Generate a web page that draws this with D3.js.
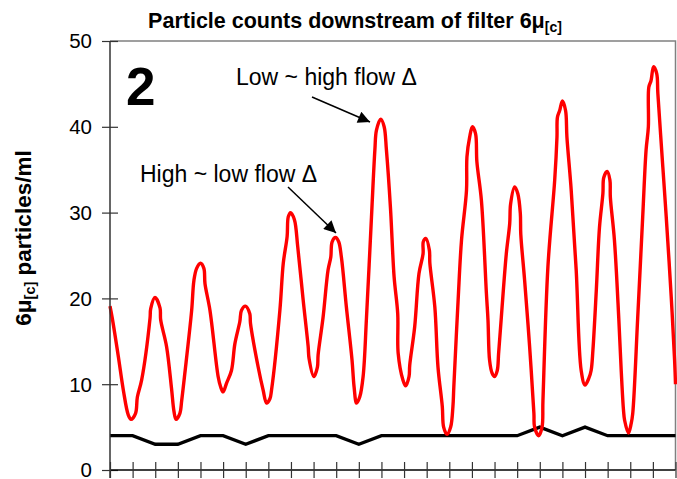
<!DOCTYPE html>
<html><head><meta charset="utf-8">
<script src="https://cdn.jsdelivr.net/npm/d3@7"></script>
<style>body{margin:0;background:#fff}svg{display:block}text{font-family:"Liberation Sans",Arial,sans-serif}</style>
</head><body><svg id="c" width="677" height="479"></svg>
<script>
const yTicks = [0,10,20,30,40,50];
const xTicks = d3.range(0,26);
const blackValues = [4,4,3,3,4,4,3,4,4,4,4,3,4,4,4,4,4,4,4,5,4,5,4,4,4,4];
const redX = [0,0.1,0.37,0.59,0.81,0.93,1.13,1.21,1.4,1.77,1.8,1.99,2.21,2.24,2.5,2.72,2.83,2.92,3.09,3.17,3.31,3.61,3.71,3.83,4.0,4.15,4.2,4.42,4.78,4.89,5.0,5.15,5.37,5.52,5.74,5.81,5.99,6.18,6.21,6.55,6.77,6.92,7.07,7.14,7.51,7.66,7.83,7.88,7.98,8.15,8.3,8.54,8.76,8.8,9.01,9.17,9.2,9.42,9.64,9.76,9.82,9.97,10.11,10.23,10.45,10.7,10.79,10.9,11.04,11.19,11.34,11.56,11.71,11.78,11.97,12.12,12.22,12.4,12.56,12.72,12.74,12.95,13.07,13.22,13.25,13.47,13.66,13.84,13.85,13.96,14.12,14.14,14.36,14.5,14.69,14.75,14.9,15.06,15.16,15.2,15.39,15.54,15.76,15.78,15.9,16.02,16.16,16.22,16.42,16.64,16.71,16.78,16.89,17.0,17.12,17.18,17.3,17.52,17.67,17.71,17.89,18.03,18.14,18.16,18.33,18.55,18.74,18.77,18.95,19.1,19.14,19.36,19.66,19.76,19.78,19.88,20.0,20.14,20.2,20.39,20.61,20.83,21.0,21.17,21.27,21.35,21.5,21.64,21.79,21.83,21.98,22.1,22.12,22.3,22.49,22.6,22.7,22.75,22.92,23.04,23.11,23.33,23.55,23.7,23.8,23.82,23.92,24.03,24.17,24.22,24.44,24.59,24.81,24.96,25.0];
const redY = [19.1,17.7,13.2,9.3,6.4,5.9,6.6,8.5,10.5,17.7,18.8,20.1,18.9,17.5,14.4,9.5,6.8,5.9,6.6,8.1,11.3,18.6,22.1,23.5,24.1,23.5,21.7,18.6,10.9,9.7,9.1,10.1,11.6,14.7,17.3,18.6,19.1,18.2,17.1,12.0,9.3,7.8,8.3,9.3,18.6,24.1,27.2,29.5,30.0,29.2,26.0,19.8,14.4,13.0,10.9,12.0,13.4,17.8,23.3,24.8,26.6,27.1,26.6,24.8,19.0,12.8,9.7,7.8,8.5,10.9,17.8,29.5,37.3,39.6,40.9,40.0,37.3,30.5,22.5,18.2,13.6,10.5,9.8,10.9,12.2,16.7,22.9,25.2,26.6,27.0,25.6,24.1,19.0,12.0,7.4,5.0,4.15,5.0,7.4,9.7,19.8,26.8,32.6,36.5,38.8,40.0,39.2,35.9,31.4,20.6,17.5,12.8,11.3,10.9,11.6,13.6,17.8,25.2,28.7,31.0,33.0,32.2,29.9,27.5,22.1,14.4,6.6,5.0,4.0,5.0,8.1,23.7,33.8,38.8,41.1,41.9,43.0,41.9,38.8,32.6,23.3,11.6,9.9,10.7,11.6,14.0,21.0,28.3,32.2,34.1,34.8,33.8,31.8,26.8,17.8,11.6,7.0,5.8,4.3,5.4,6.6,17.8,29.5,37.3,40.0,44.6,45.4,47.0,46.2,43.9,35.3,29.5,20.2,12.8,10.0];
const titleMain = "Particle counts downstream of filter 6\u03bc";
const titleSub = "[c]";
const yLabelMain = "6\u03bc", yLabelSub = "[c]", yLabelRest = " particles/ml";
const panelLabel = "2";
const annotations = [
  {text:"Low ~ high flow \u0394", tx:236, ty:85, x1:312, y1:97, x2:370, y2:122},
  {text:"High ~ low flow \u0394", tx:140, ty:182, x1:288, y1:187, x2:336, y2:233}
];

const svg = d3.select("#c");
const L=110, R=675.5, T=41, B=470;
const x = d3.scaleLinear().domain([0,25]).range([L,R]);
const y = d3.scaleLinear().domain([0,50]).range([B,T]);

svg.append("path").attr("d",`M${L},${T}H${R}V${B}`).attr("fill","none").attr("stroke","#808080").attr("stroke-width",1.5);

svg.append("path").datum(blackValues)
  .attr("d", d3.line().x((d,i)=>x(i)).y(d=>y(d)))
  .attr("fill","none").attr("stroke","#000").attr("stroke-width",3.3).attr("stroke-linejoin","miter");

const redPts = redX.map((v,i)=>[v,redY[i]]);
svg.append("path").datum(redPts)
  .attr("d", d3.line().x(d=>x(d[0])).y(d=>y(d[1])).curve(d3.curveCatmullRom.alpha(0.5)))
  .attr("fill","none").attr("stroke","#ff0000").attr("stroke-width",3.4).attr("stroke-linejoin","round");

const ya = svg.append("g").attr("transform",`translate(${L},0)`)
  .call(d3.axisLeft(y).tickValues(yTicks).tickSize(8).tickPadding(10).tickSizeOuter(0));
ya.select(".domain").attr("stroke","#333").attr("stroke-width",1.5).attr("d",`M0,${T}V478`);
ya.selectAll(".tick line").attr("x1",8).attr("x2",-8).attr("stroke","#333").attr("stroke-width",1.2);
ya.selectAll(".tick text").attr("font-size","20.5px").attr("fill","#000").attr("font-family","Liberation Sans, Arial, sans-serif")
  .attr("dy","0.34em");

const xa = svg.append("g").attr("transform",`translate(0,${B})`)
  .call(d3.axisBottom(x).tickValues(xTicks).tickSize(8).tickFormat("").tickSizeOuter(0));
xa.select(".domain").attr("stroke","#000").attr("stroke-width",1.5).attr("d",`M${L},0H${R}`);
xa.selectAll(".tick line").attr("y1",-8).attr("y2",8).attr("stroke","#333").attr("stroke-width",1.2);

const tt = svg.append("text").attr("x",355).attr("y",28).attr("text-anchor","middle")
  .attr("font-size","21.5px").attr("font-weight","bold");
tt.append("tspan").text(titleMain);
tt.append("tspan").attr("font-size","14px").attr("dy",4).text(titleSub);

const yl = svg.append("text").attr("transform","translate(31,238) rotate(-90)").attr("text-anchor","middle")
  .attr("font-size","22.5px").attr("font-weight","bold");
yl.append("tspan").text(yLabelMain);
yl.append("tspan").attr("font-size","14.5px").attr("dy",4).text(yLabelSub);
yl.append("tspan").attr("dy",-4).text(yLabelRest);

svg.append("text").attr("x",126).attr("y",105).attr("font-size","53px").attr("font-weight","bold").text(panelLabel);

svg.append("defs").append("marker").attr("id","ah").attr("viewBox","0 0 10 10").attr("refX",10).attr("refY",5)
  .attr("markerWidth",16).attr("markerHeight",12).attr("markerUnits","userSpaceOnUse").attr("orient","auto")
  .append("path").attr("d","M0,0L10,5L0,10Z").attr("fill","#000");
annotations.forEach(a=>{
  svg.append("text").attr("x",a.tx).attr("y",a.ty).attr("font-size","23px").text(a.text);
  svg.append("line").attr("x1",a.x1).attr("y1",a.y1).attr("x2",a.x2).attr("y2",a.y2)
    .attr("stroke","#000").attr("stroke-width",1.5).attr("marker-end","url(#ah)");
});
</script></body></html>
